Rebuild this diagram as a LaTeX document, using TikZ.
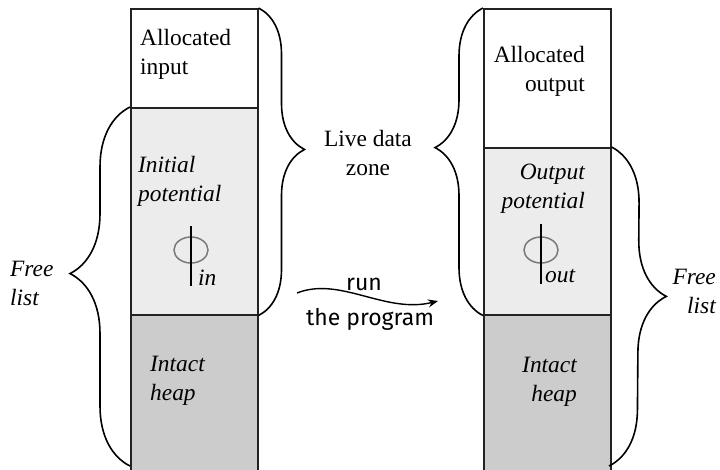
\documentclass[tikz,border=0pt]{standalone}
\usepackage{fontspec}
\setmainfont{Liberation Serif}
\newfontfamily\runfont{Fira Sans}
\usetikzlibrary{arrows.meta,decorations.pathreplacing,shapes.geometric}
\definecolor{edge}{HTML}{222222}
\definecolor{potfill}{HTML}{ECECEC}
\definecolor{heapfill}{HTML}{CCCCCC}
\definecolor{ring}{HTML}{7A7A7A}
\tikzset{cell/.style={draw=edge,line width=1.5pt,minimum width=127pt,anchor=north west,inner sep=0pt}, lbl/.style={font=\fontsize{23.4}{29}\selectfont,inner sep=0pt}, curly/.style 2 args={decorate,decoration={brace,amplitude=#1,aspect=#2},line width=1.6pt}, phiring/.style={ellipse,draw=ring,line width=1.5pt,minimum width=34pt,minimum height=26pt,inner sep=0pt}, stem/.style={line width=1.6pt}, flow/.style={-{Stealth[length=10pt,width=8pt]},line width=1.4pt}}

\begin{document}
\begin{tikzpicture}[x=1pt,y=-1pt]
\useasboundingbox (0,0) rectangle (720,469);
% heap before the run (base anchor sits on the last line)
\node[cell,fill=white,minimum height=99pt] (inAlloc) at (130,8) {};
\node[cell,fill=potfill,minimum height=207pt] (inPot) at (130,107) {};
\node[cell,fill=heapfill,minimum height=160pt] (inHeap) at (130,314) {};
\node[lbl,anchor=base west,align=left] (tAllocIn) at (140,74) {Allocated\\input};
\node[lbl,anchor=base west,align=left] (tInitPot) at (138,201) {\itshape Initial\\\itshape potential};
\node[lbl,anchor=base west,align=left] (tHeapIn) at (150,400) {\itshape Intact\\\itshape heap};
\node[phiring] (phiIn) at (191,250) {};
\draw[stem] ([yshift=10pt]phiIn.north) -- ([yshift=-22pt]phiIn.south);
\node[lbl,anchor=base west] (subIn) at (198,285) {\itshape in};
% heap after the run
\node[cell,fill=white,minimum height=139pt] (outAlloc) at (483,8) {};
\node[cell,fill=potfill,minimum height=167pt] (outPot) at (483,147) {};
\node[cell,fill=heapfill,minimum height=160pt] (outHeap) at (483,314) {};
\node[lbl,anchor=base east,align=right] (tAllocOut) at (585,91) {Allocated\\output};
\node[lbl,anchor=base east,align=right] (tOutPot) at (585,208) {\itshape Output\\\itshape potential};
\node[lbl,anchor=base east,align=right] (tHeapOut) at (577,401) {\itshape Intact\\\itshape heap};
\node[phiring] (phiOut) at (541,250) {};
\draw[stem] ([yshift=12pt]phiOut.north) -- ([yshift=-20pt]phiOut.south);
\node[lbl,anchor=base west] (subOut) at (545,282) {\itshape out};
% braces
\coordinate (inEnd) at (130,466);
\coordinate (outEnd) at (609,466);
\draw[curly={46}{0.46}] (inAlloc.north east) -- (inPot.south east);
\draw[curly={48}{0.546}] (outPot.south west) -- (outAlloc.north west);
\draw[curly={60}{0.536}] (inEnd) -- (inPot.north west);
\draw[curly={56}{0.467}] (outPot.north east) -- (outEnd);
\node[lbl,anchor=base,align=center] (tLive) at (368,175) {Live data\\zone};
\node[lbl,anchor=base west,align=left] (tFreeIn) at (10,305) {\itshape Free\\\itshape list};
\node[lbl,anchor=base east,align=right] (tFreeOut) at (716,313) {\itshape Free\\\itshape list};
% the run
\coordinate (runA) at (297,293);
\coordinate (runB) at (438,301);
\draw[flow] (runA) .. controls (340,276) and (385,314) .. (runB);
\node[font=\runfont\fontsize{23}{28}\selectfont,inner sep=0pt,anchor=base] (tRun) at (364,290) {run};
\node[font=\runfont\fontsize{23}{28}\selectfont,inner sep=0pt,anchor=base] (tProg) at (370,325) {the program};
\end{tikzpicture}
\end{document}
